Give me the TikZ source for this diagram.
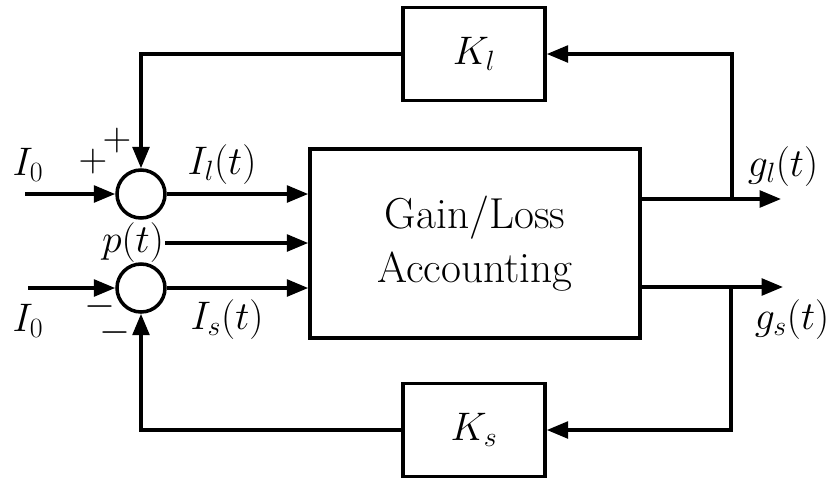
\RequirePackage{fix-cm}
\documentclass[tikz,border=0pt]{standalone}
\usepackage{amsmath}
\usepackage{tikz}
\usetikzlibrary{arrows.meta, positioning, calc}

\begin{document}
\begin{tikzpicture}[x=0.3mm, y=-0.3mm,
                font=\fontsize{34}{45}\selectfont,
                block/.style={rectangle, draw, line width=3pt, inner sep=0pt, align=center},
                sum/.style={circle, draw, line width=3pt, inner sep=0pt, minimum size=14.4mm},
                txt/.style={inner sep=1pt},
                sign/.style={inner sep=0pt, text height=11pt, text depth=-6pt},
                paths/.style={line width=3pt, -{Triangle[length=6.4mm, width=5mm]}}
            ]
                \useasboundingbox (0,0) rectangle (833,479);

                % Nodes
                \node[block, minimum width=99mm, minimum height=56.7mm, font=\fontsize{37}{46}\selectfont] (acc) at (475,243.5) {Gain/Loss\\Accounting};
                \node[block, minimum width=42.6mm, minimum height=27.9mm] (kl) at (474,54) {$K_l$};
                \node[block, minimum width=42.6mm, minimum height=27.9mm] (ks) at (474,430) {$K_s$};

                \node[sum] (sl) at (141,194) {};
                \node[sum] (ss) at (141,288) {};

                % Labels
                \node[txt] (i0l) at (28,165) {$I_0$};
                \node[txt] (i0s) at (28,321) {$I_0$};
                \node[txt] (pl1) at (93,162) {$+$};
                \node[txt] (pl2) at (117,141) {$+$};
                \node[sign] (mi1) at (100,310) {$-$};
                \node[sign] (mi2) at (115,336) {$-$};
                \node[txt] (ilt) at (222,165) {$I_l(t)$};
                \node[txt] (ist) at (227,320) {$I_s(t)$};
                \node[txt] (pt) at (133,243) {$p(t)$};
                \node[txt] (glt) at (783,167) {$g_l(t)$};
                \node[txt] (gst) at (792,320) {$g_s(t)$};

                % Free ends and taps
                \coordinate (inl) at (25,194);
                \coordinate (ins) at (28,288);
                \coordinate (outl) at (781,199);
                \coordinate (outs) at (783,287);
                \coordinate (tapl) at (732,199);
                \coordinate (taps) at (731,287);

                % Paths: inputs
                \draw[paths] (inl) -- (sl.west);
                \draw[paths] (ins) -- (ss.west);
                \draw[paths] (sl.east) -- (acc.west |- sl);
                \draw[paths] (pt.east) -- (acc.west |- pt);
                \draw[paths] (ss.east) -- (acc.west |- ss);

                % Paths: outputs
                \draw[paths] (acc.east |- outl) -- (outl);
                \draw[paths] (acc.east |- outs) -- (outs);

                % Paths: feedback loops
                \draw[paths] (tapl) |- (kl.east);
                \draw[paths] (kl.west) -| (sl.north);
                \draw[paths] (taps) |- (ks.east);
                \draw[paths] (ks.west) -| (ss.south);
            \end{tikzpicture}
\end{document}
